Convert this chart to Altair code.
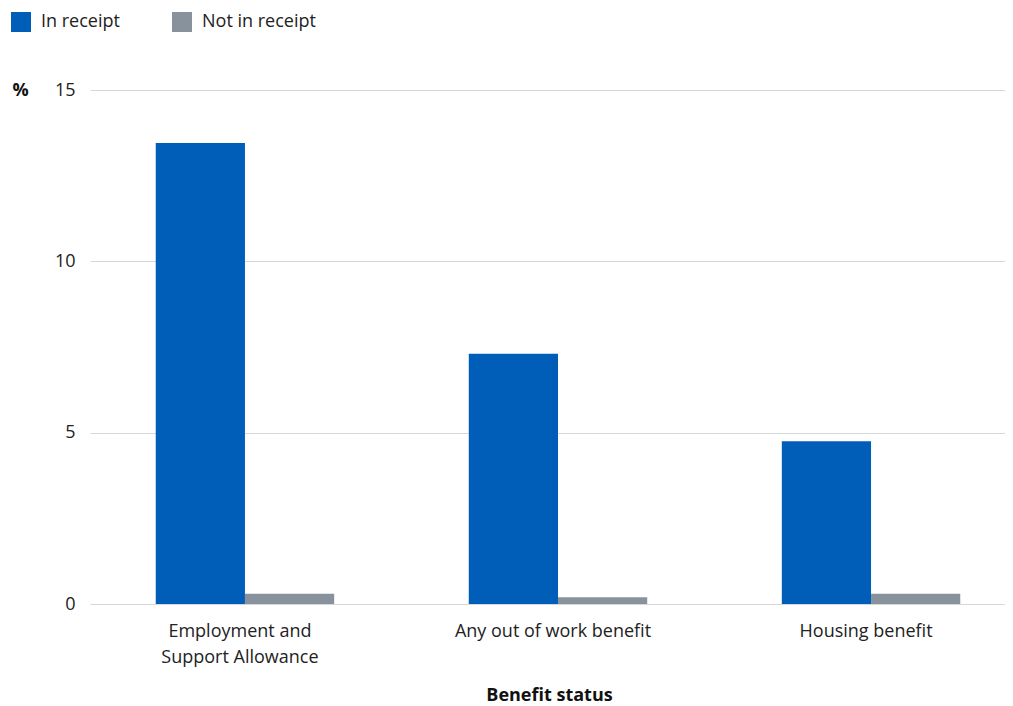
import altair as alt
import pandas as pd

categories = ["Employment and\nSupport Allowance", "Any out of work benefit", "Housing benefit"]
in_receipt = [13.45, 7.3, 4.75]
not_in_receipt = [0.3, 0.2, 0.3]
series = ["In receipt", "Not in receipt"]
colors = ["#005EB8", "#88929C"]
y_ticks = [0, 5, 10, 15]

rows = []
for c, a, b in zip(categories, in_receipt, not_in_receipt):
    rows.append({"category": c, "status": series[0], "value": a})
    rows.append({"category": c, "status": series[1], "value": b})
df = pd.DataFrame(rows)

FONT = "Open Sans"

chart = alt.Chart(df).mark_bar().encode(
    x=alt.X("category:N", sort=categories, title="Benefit status",
            scale=alt.Scale(paddingInner=0.43, paddingOuter=0.21, range=[0, 936]),
            axis=alt.Axis(labelAngle=0, labelExpr="split(datum.label, '\\n')",
                          labelFontSize=18, labelFont=FONT, labelColor="#222",
                          labelLineHeight=26, labelPadding=18, labelLimit=400,
                          labelOffset=-5,
                          ticks=False, domain=True, domainColor="#d6d9d9",
                          titleFontSize=18, titleFont=FONT, titleFontWeight="bold",
                          titleColor="#111", titlePadding=20,
                          titleX=459, titleAlign="center")),
    xOffset=alt.XOffset("status:N", sort=series),
    y=alt.Y("value:Q", scale=alt.Scale(domain=[0, 15]),
            axis=alt.Axis(values=y_ticks, title="%", titleAngle=0, titleAlign="left",
                          titleBaseline="middle", titleX=-78, titleY=0,
                          titleFontSize=18, titleFont=FONT, titleFontWeight="bold",
                          titleColor="#111",
                          labelFontSize=18, labelFont=FONT, labelColor="#222",
                          labelPadding=15, ticks=False, domain=False,
                          grid=True, gridColor="#d6d9d9")),
    color=alt.Color("status:N", sort=series,
                    scale=alt.Scale(domain=series, range=colors),
                    legend=alt.Legend(title=None, orient="none", legendX=-79, legendY=-78,
                                      direction="horizontal", symbolType="square",
                                      symbolSize=400, symbolStrokeWidth=0,
                                      labelFontSize=18, labelFont=FONT, labelColor="#222",
                                      labelOffset=10, columnPadding=52)),
).properties(
    width=915, height=514,
    autosize=alt.AutoSizeParams(type="none"),
    padding={"left": 82, "top": 82, "right": 0, "bottom": 104},
).configure_view(stroke=None).configure_bar(opacity=1)

chart.save("out.html", embed_options={"renderer": "svg", "actions": False})
